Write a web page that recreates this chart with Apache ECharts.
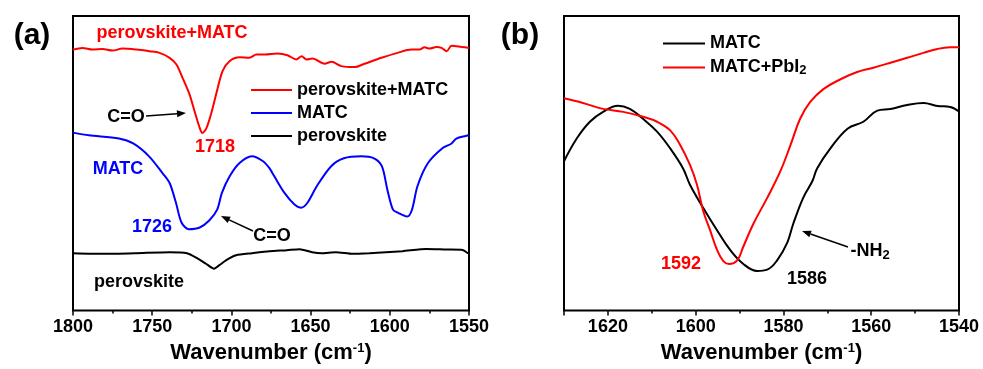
<!DOCTYPE html>
<html>
<head>
<meta charset="utf-8">
<script src="https://cdn.jsdelivr.net/npm/echarts@6/dist/echarts.min.js"></script>
<style>html,body{margin:0;padding:0;background:#fff;}#c{width:983px;height:369px;}</style>
</head>
<body>
<div id="c"></div>
<script>
// ---------- Panel (a) data: wavenumber (cm-1) and transmittance (a.u.) ----------
const wnPeroMatcA = [1800,1794,1787.7,1781.4,1775,1768.8,1760,1751.7,1745.4,1739,1734.7,1730.9,1726.5,1723.4,1720.2,1718.4,1715.9,1712.8,1709.6,1705.6,1701.2,1694.9,1688.6,1684.2,1679,1671,1664.6,1659,1655.7,1652.6,1648.8,1641.2,1636.8,1630.5,1622.3,1616,1605.3,1595.1,1586.3,1581.2,1578.1,1574.9,1570.5,1567.3,1564.1,1561,1554.6,1550];
const tPeroMatcA  = [264,265.7,264,264.7,263,265,264,262.3,260.7,255.7,249,235.7,219,202.3,185.7,179.7,184,199,219,242.3,252.3,256.3,255.7,259,259,260,258.3,254,257.3,254,255,249.7,251.7,247.3,246.3,249.7,255.7,260.7,264,264,266.3,265,266.7,265.7,262.3,268,266.7,265.7];

const wnMatcA = [1800,1790,1771,1762,1752,1743.5,1739,1735,1731.5,1727,1720,1714,1709,1706,1701,1695,1687,1680,1676,1673,1666.5,1660,1656,1652,1646,1637,1629,1618,1610,1605,1601.5,1598,1595,1589,1586,1582.5,1576,1567,1561,1558,1551,1550];
const tMatcA  = [180,177.3,174,169,156,139,129,109,89,82.3,84,91,102,119,136,149,156,151,144,136,119,107,104,109,126,146,154,156,154,146,122,102,99,95,102,126,149,164,169,174,177,178];

const wnPeroA = [1800,1781,1760,1739,1728,1722,1716,1711,1707.5,1703,1697,1687,1676,1665,1657,1649,1643,1634,1623.5,1613,1592,1577,1564.5,1554,1551,1550];
const tPeroA  = [58,57.3,58,59,58,53.3,47.3,42.3,46,51.3,56,58,60,61,62,59,58,59,57.3,58,60,62.3,61.7,61.3,58.3,58];

// ---------- Panel (b) data ----------
const wnMatcB = [1630,1627.1,1624.1,1621.1,1617.7,1615,1612,1608.8,1605.8,1602.9,1601.3,1598.3,1595.1,1592.1,1589.2,1586,1583.7,1581.4,1579.1,1577.8,1575.5,1573.4,1572.3,1569.3,1565.4,1561.8,1558.6,1555.6,1551.8,1548.1,1544.9,1542,1540];
const tMatcB  = [151,174,191,201,207.3,204,194,181,164,144,127.3,104,81,61,47.3,40,41.3,51,69,87.3,114,131,144,164,184,191,202.3,204,208,210,207,206,201.3];

const wnMatcPbB = [1630,1625.7,1621.1,1616.5,1612,1608.8,1605.8,1603.5,1601.3,1599.7,1598.3,1596.7,1595.1,1593.7,1592.4,1590.5,1589.2,1586.9,1583.7,1580.7,1578.4,1576.2,1573.9,1570.9,1567,1563.2,1559.5,1555.6,1551.8,1548.1,1544.9,1542,1540];
const tMatcPbB  = [214.7,210,204,201,196,191,182.3,167.3,147.3,127.3,101,81,61,50,47,51,64,87.3,114,141,167.3,194,211,224,234,241.3,245.7,250.7,255.7,260.7,264.7,266.3,266.3];

// ---------- Axis settings ----------
const xTicksA = {min: 1550, max: 1800, interval: 50, showMax: true};
const xTicksB = {min: 1540, max: 1630, interval: 20, showMax: false};
const seriesNamesA = ['perovskite+MATC', 'MATC', 'perovskite'];
const seriesNamesB = ['MATC', 'MATC+PbI2'];

const zip = (xs, ys) => xs.map((x, i) => [x, ys[i]]);
const FONT = '"Liberation Sans", Arial, Helvetica, sans-serif';
const RED = '#ff0000', BLUE = '#0000ff', BLACK = '#000000';

const chart = echarts.init(document.getElementById('c'), null, {renderer: 'canvas'});

function xAxisCfg(grid, t) {
  return {
    type: 'value', gridIndex: grid, inverse: true,
    min: t.min, max: t.max, interval: t.interval,
    axisLine: {show: false},
    axisTick: {show: true, length: 5, lineStyle: {color: BLACK, width: 1.5},
      customValues: undefined},
    minorTick: {show: true, splitNumber: 2, length: 3, lineStyle: {color: BLACK, width: 1.5}},
    splitLine: {show: false},
    axisLabel: {color: BLACK, fontFamily: FONT, fontWeight: 'bold', fontSize: 18, margin: 8,
      showMinLabel: true, showMaxLabel: t.showMax,
      formatter: v => (v % t.interval === 0 ? String(v) : '')},
    name: 'Wavenumber (cm{sup|-1})',
    nameLocation: 'middle', nameGap: 31,
    nameTextStyle: {color: BLACK, fontFamily: FONT, fontWeight: 'bold', fontSize: 22,
      rich: {sup: {fontSize: 13, fontWeight: 'bold', fontFamily: FONT, verticalAlign: 'top', padding: [0,0,10,0]}}}
  };
}
function yAxisCfg(grid) {
  return {type: 'value', gridIndex: grid, min: 0, max: 298, show: false, splitLine: {show: false}};
}
function lineSeries(name, x, y, color, xi, smooth) {
  return {
    type: 'line', name: name, xAxisIndex: xi, yAxisIndex: xi,
    data: zip(x, y), showSymbol: false, symbol: 'none', smooth: smooth,
    lineStyle: {color: color, width: 2}, itemStyle: {color: color},
    animation: false
  };
}

// annotation helpers (text + arrows)
function txt(x, y, s, color, size, rich) {
  return {type: 'text', x: x, y: y, z: 100,
    style: {text: s, fill: color, font: 'bold ' + size + 'px ' + FONT, align: 'center', verticalAlign: 'middle', rich: rich}};
}
function arrow(x1, y1, x2, y2) {
  const ang = Math.atan2(y2 - y1, x2 - x1), L = 9, W = 3.5;
  const bx = x2 - L * Math.cos(ang), by = y2 - L * Math.sin(ang);
  const px = -Math.sin(ang) * W, py = Math.cos(ang) * W;
  return [
    {type: 'line', z: 100, shape: {x1: x1, y1: y1, x2: bx, y2: by}, style: {stroke: BLACK, lineWidth: 1.5}},
    {type: 'polygon', z: 100, shape: {points: [[x2, y2], [bx + px, by + py], [bx - px, by - py]]}, style: {fill: BLACK}}
  ];
}
const subRich = {sub: {fontSize: 13, fontWeight: 'bold', fontFamily: FONT, verticalAlign: 'bottom', padding: [8,0,0,0]}};

const legendText = {color: BLACK, fontFamily: FONT, fontWeight: 'bold', fontSize: 18, lineHeight: 18};

const option = {
  backgroundColor: '#fff',
  animation: false,
  grid: [
    {left: 73, top: 16, width: 396, height: 298, show: true, borderColor: BLACK, borderWidth: 2, backgroundColor: 'transparent'},
    {left: 564, top: 16, width: 395, height: 298, show: true, borderColor: BLACK, borderWidth: 2, backgroundColor: 'transparent'}
  ],
  xAxis: [xAxisCfg(0, xTicksA), xAxisCfg(1, xTicksB)],
  yAxis: [yAxisCfg(0), yAxisCfg(1)],
  legend: [
    {data: seriesNamesA, orient: 'vertical', left: 251, top: 81, padding: 0, itemGap: 5,
      icon: 'rect', itemWidth: 41, itemHeight: 2.2, selectedMode: false, textStyle: legendText},
    {data: seriesNamesB.map(n => 'b:' + n), orient: 'vertical', left: 663, top: 34, padding: 0, itemGap: 5,
      icon: 'rect', itemWidth: 42, itemHeight: 2.2, selectedMode: false,
      formatter: n => n.slice(2).replace('PbI2', 'PbI{sub|2}'),
      textStyle: Object.assign({}, legendText, {lineHeight: 19, rich: subRich})}
  ],
  series: [
    lineSeries(seriesNamesA[0], wnPeroMatcA, tPeroMatcA, RED, 0, 0.3),
    lineSeries(seriesNamesA[1], wnMatcA, tMatcA, BLUE, 0, 0.3),
    lineSeries(seriesNamesA[2], wnPeroA, tPeroA, BLACK, 0, 0.2),
    lineSeries('b:' + seriesNamesB[0], wnMatcB, tMatcB, BLACK, 1, 0.4),
    lineSeries('b:' + seriesNamesB[1], wnMatcPbB, tMatcPbB, RED, 1, 0.4)
  ],
  graphic: [
    txt(32, 36, '(a)', BLACK, 30),
    txt(172, 33, 'perovskite+MATC', RED, 18),
    txt(126, 117, 'C=O', BLACK, 18),
    ...arrow(146, 116, 186, 113),
    txt(215, 147, '1718', RED, 18),
    txt(118, 169, 'MATC', BLUE, 18),
    txt(152, 227, '1726', BLUE, 18),
    txt(272, 236, 'C=O', BLACK, 18),
    ...arrow(253, 231, 221, 216),
    txt(139, 282, 'perovskite', BLACK, 18),
    txt(520, 36, '(b)', BLACK, 30),
    txt(681, 264, '1592', RED, 18),
    txt(807, 279, '1586', BLACK, 18),
    txt(870, 251, '-NH{sub|2}', BLACK, 18, subRich),
    ...arrow(848, 247, 802, 231)
  ]
};
chart.setOption(option);
</script>
</body>
</html>
